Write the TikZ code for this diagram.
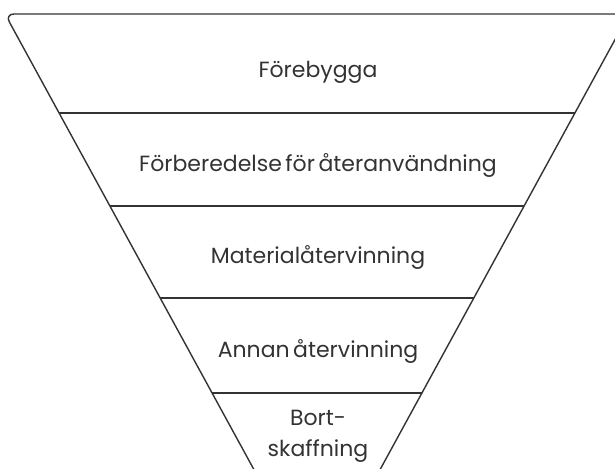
\documentclass[tikz,border=0pt]{standalone}
\usepackage{fontspec}
\setmainfont[WordSpace=0.6]{Poppins}
\usetikzlibrary{calc}
\definecolor{ink}{HTML}{333333}
\tikzset{
  edge/.style={draw=ink, line width=1.4pt},
  label/.style={text=ink, font=\fontsize{22}{24}\selectfont, align=center, inner sep=0pt}
}
\begin{document}
\begin{tikzpicture}[x=1pt,y=-1pt]
\useasboundingbox (0,0) rectangle (615,468);
\clip (0,0) rectangle (615,468);
\coordinate (L) at (5,14);
\coordinate (R) at (629,14);
\coordinate (A) at (317,585);
\draw[edge, rounded corners=9pt] (A) -- (L) -- (R) -- cycle;
\foreach \t/\n in {0.1734/a,0.3363/b,0.4974/c,0.6637/d}{
  \coordinate (l\n) at ($(L)!\t!(A)$);
  \coordinate (r\n) at ($(R)!\t!(A)$);
  \draw[edge] (l\n) -- (r\n);
}
\node[label] (n1) at (318,72) {Förebygga};
\node[label] (n2) at (318,165) {Förberedelse för återanvändning};
\node[label] (n3) at (318,257) {Materialåtervinning};
\node[label] (n4) at (318,351) {Annan återvinning};
\node[label, font=\fontsize{22}{31}\selectfont] (n5) at (318,436) {Bort-\\skaffning};
\end{tikzpicture}
\end{document}
